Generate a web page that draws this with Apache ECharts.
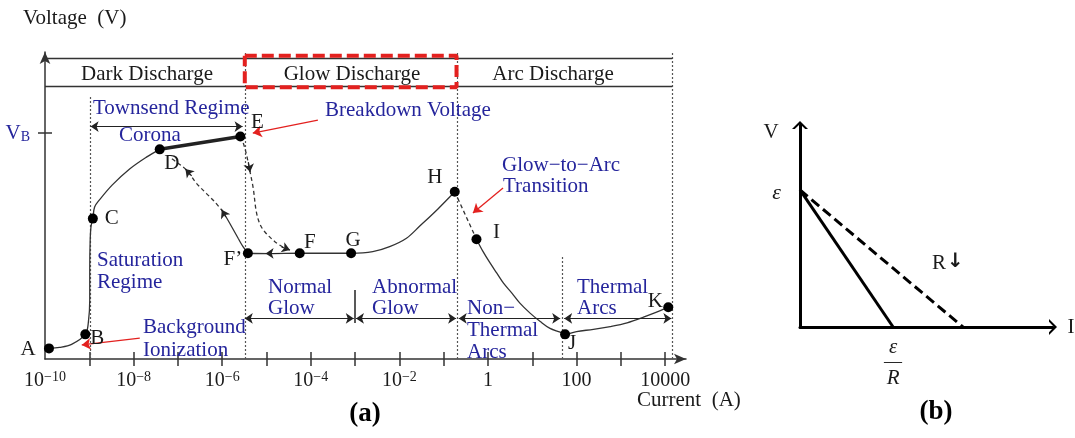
<!DOCTYPE html>
<html><head><meta charset="utf-8">
<script src="https://cdn.jsdelivr.net/npm/echarts@6/dist/echarts.min.js"></script>
<style>html,body{margin:0;padding:0;background:#fff}#c{width:1075px;height:438px}</style>
</head><body><div id="c"></div>
<script>
// ===== Chart (a): x = log10(current in A), y = voltage (arbitrary units) =====
const xTickExponents = [-9,-8,-7,-6,-5,-4,-3,-2,-1,0,1,2,3,4];
const xLabelExponents = [-10,-8,-6,-4,-2,0,2,4];
const vBreakdown = 72.4;

const pointNames = ['A','B','C','D','E','F\u2019','F','G','H','I','J','K'];
const pointLogI  = [-9.91,-9.09,-8.92,-7.41,-5.59,-5.42,-4.25,-3.09,-0.75,-0.26,1.74,4.07];
const pointV     = [3.4,7.9,45.0,67.2,71.3,33.9,33.9,33.9,53.6,38.4,7.9,16.6];

// A -> B -> C -> D (dark discharge curve)
const darkLogI = [-9.91,-9.67,-9.40,-9.09,-9.02,-8.99,-8.99,-8.98,-8.96,-8.92,-8.88,-8.77,-8.48,-8.09,-7.71,-7.41];
const darkV    = [3.4,3.7,4.7,7.9,11.9,18.9,28.5,38.1,42.6,45.0,48.7,51.0,55.8,60.9,64.7,67.2];
// D -> E (corona, thick)
const coronaLogI = [-7.41,-5.59];
const coronaV    = [67.2,71.3];
// E -> F (dashed breakdown path)
const breakLogI = [-5.59,-5.51,-5.45,-5.38,-5.30,-5.23,-5.15,-5.04,-4.81,-4.58];
const breakV    = [71.3,68.6,65.4,60.6,54.8,47.2,43.3,40.8,37.6,35.4];
// F' -> D return path: solid lower part, dashed upper part
const returnSolidLogI = [-5.42,-5.53,-5.64,-5.83,-5.98];
const returnSolidV    = [33.9,36.0,38.7,43.5,47.2];
const returnDashLogI  = [-5.98,-6.17,-6.36,-6.58,-6.81,-7.04,-7.19];
const returnDashV     = [47.2,50.4,53.1,56.3,60.6,63.2,64.7];
// F' -> F -> G -> H (glow)
const glowLogI = [-5.42,-4.93,-4.25,-3.57,-3.09,-2.60,-2.22,-1.84,-1.54,-1.13,-0.75];
const glowV    = [33.9,33.8,33.9,33.9,33.9,34.4,36.0,38.7,42.6,48.1,53.6];
// H -> I (dashed transition)
const transLogI = [-0.75,-0.26];
const transV    = [53.6,38.4];
// I -> J -> K (arcs)
const arcLogI = [-0.26,-0.11,0.05,0.20,0.35,0.54,0.72,0.95,1.18,1.40,1.63,1.74,2.00,2.38,2.76,3.14,3.51,3.89,4.07];
const arcV    = [38.4,34.4,30.7,27.5,24.3,21.1,17.9,14.7,12.0,9.8,8.6,7.9,8.8,9.5,10.4,11.6,13.4,15.5,16.6];

// region boundaries (dotted verticals)
const boundaryLogI = [-8.97,-5.49,-0.69,1.67,4.16];
const boundaryTopV = [84,98.4,98.4,33,98.4];
// top band
const bandLeftLogI = -10, bandRightLogI = 4.16;
const bandLinesV = [96.4,87.5];
const glowBoxLogI = [-5.49,-0.71];
const glowBoxV = [97.2,87.1];
// regime spans (double arrows)
const spanStartLogI = [-8.97,-5.49,-2.98,-0.66,1.72];
const spanEndLogI   = [-5.54,-3.03,-0.72,1.63,4.14];
const spanV         = [74.5,13.0,13.0,13.0,13.0];
const spanDividerLogI = -3.01, spanDividerV = [22.1,11.5];

// ===== Chart (b): load line V = eps - I R =====
const bSolidI  = [0,1];
const bSolidV  = [1,0];
const bDashedI = [0,1.75];
const bDashedV = [1,0];

// ---------- styling / annotation layout ----------
const SERIF = '"Liberation Serif","DejaVu Serif",serif';
const BLUE = '#25259c';
const INK = '#1a1a1a';
const LINE = '#333';
const RED = '#e3211f';

const pointLabelOffsets = [[-21,1],[12,4],[19,0],[12,14],[17,-14],[-15,6],[10,-11],[2,-13],[-20,-14],[20,-7],[7,9],[-13,-6]];

const curveArrows = [
  [[-5.41,63.1],[-5.37,59.9]],
  [[-4.66,35.9],[-4.47,34.9]],
  [[-6.69,58.7],[-6.83,60.9]],
  [[-5.92,45.5],[-6.01,47.8]],
  [[-4.70,33.85],[-5.02,33.85]]
];
const redArrows = [
  [[-3.84,76.6],[-5.31,72.4]],
  [[0.34,54.8],[-0.34,46.8]],
  [[-7.86,6.7],[-9.17,4.5]]
];

const texts = [
  ['Voltage\u2002(V)',23,18,INK,'left'],
  ['Dark Discharge',147,74,INK,'center'],
  ['Glow Discharge',352,74,INK,'center'],
  ['Arc Discharge',553,74,INK,'center'],
  ['Townsend Regime',93,108,BLUE,'left'],
  ['Corona',150,135,BLUE,'center'],
  ['Breakdown Voltage',325,110,BLUE,'left'],
  ['Glow\u2212to\u2212Arc',502,165,BLUE,'left'],
  ['Transition',503,186,BLUE,'left'],
  ['Saturation',97,260,BLUE,'left'],
  ['Regime',97,282,BLUE,'left'],
  ['Background',143,327,BLUE,'left'],
  ['Ionization',143,350,BLUE,'left'],
  ['Normal',268,287,BLUE,'left'],
  ['Glow',268,308,BLUE,'left'],
  ['Abnormal',372,287,BLUE,'left'],
  ['Glow',372,308,BLUE,'left'],
  ['Non\u2212',467,308,BLUE,'left'],
  ['Thermal',467,330,BLUE,'left'],
  ['Arcs',467,352,BLUE,'left'],
  ['Thermal',577,287,BLUE,'left'],
  ['Arcs',577,308,BLUE,'left'],
  ['Current\u2002(A)',637,400,INK,'left'],
  ['V',771,132,INK,'center'],
  ['I',1071,327,INK,'center']
];

function pts(xs, ys){ return xs.map((x,i)=>[x, ys[i]]); }
function curve(xs, ys, lineStyle, smooth, z){
  return {type:'line', xAxisIndex:0, yAxisIndex:0, data:pts(xs,ys), smooth:smooth||0, showSymbol:false,
    symbol:'none', lineStyle:Object.assign({opacity:1}, lineStyle), silent:true, z:z||3};
}
function segs(list, lineStyle, symbol, symbolSize, xi, yi, z){
  return {type:'lines', coordinateSystem:'cartesian2d', xAxisIndex:xi||0, yAxisIndex:yi||0,
    data:list.map(c=>({coords:c})), lineStyle:Object.assign({opacity:1}, lineStyle),
    symbol:symbol||'none', symbolSize:symbolSize||8, silent:true, z:z||4};
}

const thin = {color:LINE, width:1.3};
const dashedThin = {color:LINE, width:1.3, type:[4,3]};
const dotted = {color:'#555', width:1.2, type:[2,2]};

const boundarySegs = boundaryLogI.map((x,i)=>[[x,0],[x,boundaryTopV[i]]]);
const bandSegs = bandLinesV.map(v=>[[bandLeftLogI,v],[bandRightLogI,v]]);
const spanSegs = spanStartLogI.map((x,i)=>[[x,spanV[i]],[spanEndLogI[i],spanV[i]]]);
const boxX = [glowBoxLogI[0],glowBoxLogI[1],glowBoxLogI[1],glowBoxLogI[0],glowBoxLogI[0]];
const boxY = [glowBoxV[0],glowBoxV[0],glowBoxV[1],glowBoxV[1],glowBoxV[0]];

function xLabel(v){
  const e = Math.round(v);
  if (e === 0) return '1';
  if (e > 0) return String(Math.pow(10,e));
  return '10{sup|\u2212' + (-e) + '}';
}

const axisA = {color:LINE, width:1.5};
const chevron = 'path://M0,10 L10,0 L20,10 L16.5,10 L10,3.8 L3.5,10 Z';
const option = {
  animation:false,
  backgroundColor:'#fff',
  grid:[
    {left:45, top:52, width:641, height:307, outerBoundsMode:'none', containLabel:false},
    {left:800, top:125, width:253, height:202, outerBoundsMode:'none', containLabel:false}
  ],
  xAxis:[
    {type:'value', gridIndex:0, min:-10, max:4.47, position:'bottom',
     axisLine:{show:true, onZero:false, lineStyle:axisA, symbol:['none','arrow'], symbolSize:[8,12]},
     axisTick:{show:true, customValues:xTickExponents, length:7, lineStyle:axisA},
     axisLabel:{show:true, customValues:xLabelExponents, formatter:xLabel, margin:11,
       fontFamily:SERIF, fontSize:20, color:INK, lineHeight:22,
       rich:{sup:{fontFamily:SERIF, fontSize:14, color:INK, verticalAlign:'top', lineHeight:14}}},
     splitLine:{show:false}},
    {type:'value', gridIndex:0, min:-10, max:4.47, position:'bottom',
     axisLine:{show:false, onZero:false},
     axisTick:{show:true, inside:true, customValues:xTickExponents, length:7, lineStyle:axisA},
     axisLabel:{show:false}, splitLine:{show:false}},
    {type:'value', gridIndex:1, min:0, max:2.717, position:'bottom',
     axisLine:{show:true, onZero:false, lineStyle:{color:'#000', width:3},
       symbol:['none',chevron], symbolSize:[16,10]},
     axisTick:{show:false},
     axisLabel:{show:true, customValues:[1], margin:12, formatter:()=> '{n|\u03b5}\n{b|\u2014}\n{d|R}',
       rich:{n:{fontFamily:SERIF, fontStyle:'italic', fontSize:21, lineHeight:16, color:INK},
             b:{fontFamily:SERIF, fontSize:18, lineHeight:14, color:INK},
             d:{fontFamily:SERIF, fontStyle:'italic', fontSize:21, lineHeight:18, color:INK}}},
     splitLine:{show:false}}
  ],
  yAxis:[
    {type:'value', gridIndex:0, min:0, max:98.4, position:'left',
     axisLine:{show:true, onZero:false, lineStyle:axisA, symbol:['none','arrow'], symbolSize:[8,12]},
     axisTick:{show:true, customValues:[vBreakdown], length:7, lineStyle:axisA},
     axisLabel:{show:true, customValues:[vBreakdown], margin:15, formatter:()=> '{v|V}{s|B}', lineHeight:22,
       rich:{v:{fontFamily:SERIF, fontSize:21, color:BLUE},
             s:{fontFamily:SERIF, fontSize:14, color:BLUE, verticalAlign:'bottom', lineHeight:13}}},
     splitLine:{show:false}},
    {type:'value', gridIndex:0, min:0, max:98.4, position:'left',
     axisLine:{show:false, onZero:false},
     axisTick:{show:true, inside:true, customValues:[vBreakdown], length:7, lineStyle:axisA},
     axisLabel:{show:false}, splitLine:{show:false}},
    {type:'value', gridIndex:1, min:0, max:1.474, position:'left',
     axisLine:{show:true, onZero:false, lineStyle:{color:'#000', width:3},
       symbol:['none',chevron], symbolSize:[16,10]},
     axisTick:{show:false},
     axisLabel:{show:true, customValues:[1], margin:19, formatter:()=> '{e|\u03b5}',
       rich:{e:{fontFamily:SERIF, fontStyle:'italic', fontSize:22, color:INK, padding:[6,0,0,0]}}},
     splitLine:{show:false}}
  ],
  series:[
    segs(boundarySegs, dotted, 'none', 0, 0, 0, 2),
    segs(bandSegs, {color:LINE, width:1.3}, 'none', 0, 0, 0, 2),
    curve(boxX, boxY, {color:RED, width:4, type:[12,5]}, 0, 5),
    segs(spanSegs, {color:'#222', width:1.2}, ['arrow','arrow'], 8),
    segs([[[spanDividerLogI,spanDividerV[0]],[spanDividerLogI,spanDividerV[1]]]], {color:'#222', width:1.5}),
    curve(darkLogI, darkV, thin, 0.35),
    curve(coronaLogI, coronaV, {color:'#222', width:3.5}, 0),
    curve(breakLogI, breakV, dashedThin, 0.35),
    curve(returnSolidLogI, returnSolidV, thin, 0.35),
    curve(returnDashLogI, returnDashV, dashedThin, 0.35),
    curve(glowLogI, glowV, thin, 0.35),
    curve(transLogI, transV, dashedThin, 0),
    curve(arcLogI, arcV, thin, 0.35),
    segs(curveArrows, {color:'#222', width:1.2}, ['none','arrow'], 8),
    segs(redArrows, {color:RED, width:1.3}, ['none','arrow'], 9),
    {type:'scatter', xAxisIndex:0, yAxisIndex:0, symbolSize:10, silent:true, z:6,
     itemStyle:{color:'#000', opacity:1},
     label:{show:true, position:'inside', formatter:'{b}', fontFamily:SERIF, fontSize:21, color:INK},
     data:pointNames.map((n,i)=>({name:n, value:[pointLogI[i],pointV[i]], label:{offset:pointLabelOffsets[i]}}))},
    {type:'line', xAxisIndex:2, yAxisIndex:2, data:pts(bSolidI,bSolidV), showSymbol:false, symbol:'none',
     lineStyle:{color:'#000', width:3}, silent:true},
    {type:'line', xAxisIndex:2, yAxisIndex:2, data:pts(bDashedI,bDashedV), showSymbol:false, symbol:'none',
     lineStyle:{color:'#000', width:3, type:[10,5]}, silent:true}
  ],
  graphic: texts.map(t=>({type:'text', x:t[1], y:t[2], z:100, silent:true,
      style:{text:t[0], fill:t[3], fontFamily:SERIF, fontSize:21, align:t[4], verticalAlign:'middle'}}))
    .concat([
      {type:'text', x:932, y:263, z:100, style:{text:'R', fill:INK, fontFamily:SERIF, fontSize:21, align:'left', verticalAlign:'middle'}},
      {type:'text', x:947, y:262, z:100, style:{text:'\u2193', fill:INK, fontFamily:'"DejaVu Sans"', fontWeight:'bold', fontSize:20, align:'left', verticalAlign:'middle'}},
      {type:'text', x:365, y:414, z:100, style:{text:'(a)', fill:'#000', fontFamily:SERIF, fontWeight:'bold', fontSize:27, align:'center', verticalAlign:'middle'}},
      {type:'text', x:936, y:412, z:100, style:{text:'(b)', fill:'#000', fontFamily:SERIF, fontWeight:'bold', fontSize:27, align:'center', verticalAlign:'middle'}}
    ])
};

const chart = echarts.init(document.getElementById('c'));
chart.setOption(option);
</script>
</body></html>
